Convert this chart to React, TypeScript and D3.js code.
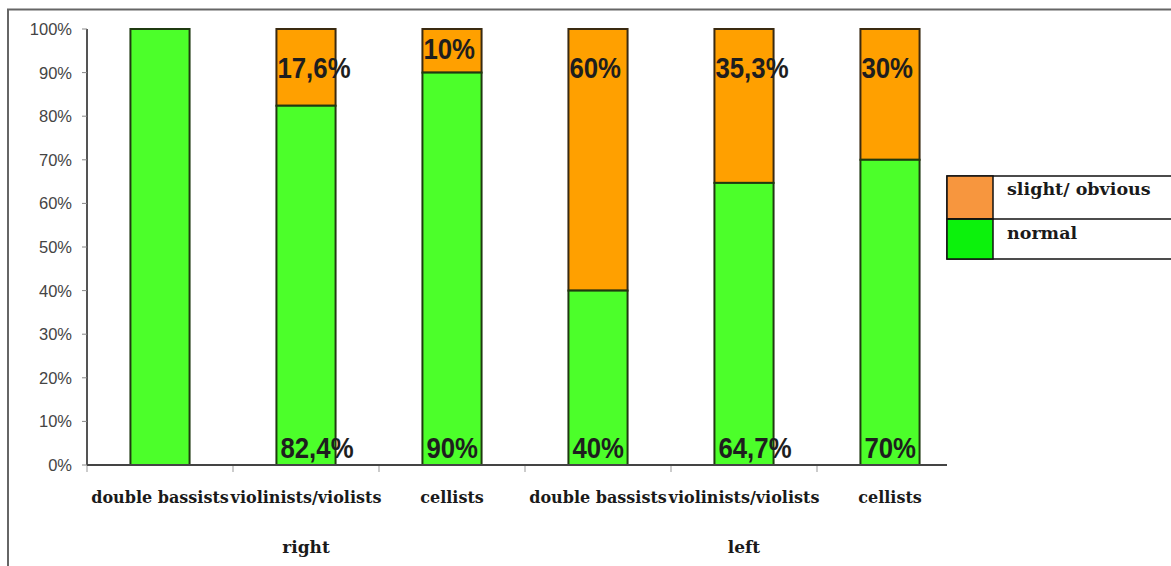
import React from "react";
import * as d3 from "d3";

// Hand position assessment by instrument group, right and left side
const categories = [
  "double bassists",
  "violinists/violists",
  "cellists",
  "double bassists",
  "violinists/violists",
  "cellists",
];
const groups = ["right", "left"];
const normalValues = [100, 82.4, 90, 40, 64.7, 70];
const slightValues = [0, 17.6, 10, 60, 35.3, 30];
const yTicks = [0, 10, 20, 30, 40, 50, 60, 70, 80, 90, 100];
const legendItems = ["slight/ obvious", "normal"];

const W = 1171;
const H = 566;
const GREEN = "#4cff2a";
const ORANGE = "#ffa000";
const LEGEND_GREEN = "#0cf20c";
const LEGEND_ORANGE = "#f7963e";

const fmt = (v: number) => String(v).replace(".", ",") + "%";

export default function App() {
  const x = d3
    .scaleBand<number>()
    .domain(categories.map((_, i) => i))
    .range([87, 87 + 146 * categories.length])
    .paddingInner(0.595)
    .paddingOuter(0.2975);
  const y = d3.scaleLinear().domain([0, 100]).range([465, 29]);
  const step = x.step();
  const bw = x.bandwidth();
  const x0 = x.range()[0];

  const serif = "'DejaVu Serif', 'Liberation Serif', serif";
  const sans = "'Liberation Sans', Arial, sans-serif";

  // condensed bold label, drawn by squeezing a regular bold face horizontally
  const valueLabel = (key: string, tx: number, ty: number, text: string) => (
    <text
      key={key}
      transform={`translate(${tx},${ty}) scale(0.86,1)`}
      fontFamily={sans}
      fontWeight="bold"
      fontSize={30}
      fill="#1e1e1e"
    >
      {text}
    </text>
  );

  return (
    <svg
      width={W}
      height={H}
      style={{ position: "absolute", left: 0, top: 0, background: "#fff" }}
    >
      {/* outer frame */}
      <rect x={8} y={9.5} width={W} height={H} fill="#fff" stroke="#666" strokeWidth={2} />

      {/* y axis */}
      <line x1={x0} x2={x0} y1={y(100)} y2={y(0)} stroke="#555" strokeWidth={2} />
      {yTicks.map((t) => (
        <g key={t}>
          <line x1={x0 - 5} x2={x0} y1={y(t)} y2={y(t)} stroke="#888" strokeWidth={1} />
          <text
            x={72}
            y={y(t)}
            dy="0.36em"
            textAnchor="end"
            fontFamily={sans}
            fontSize={16.5}
            fill="#444"
          >
            {t}%
          </text>
        </g>
      ))}

      {/* x axis ticks */}
      {categories.map((_, i) => (
        <line
          key={i}
          x1={x0 + step * i}
          x2={x0 + step * i}
          y1={y(0)}
          y2={y(0) + 7}
          stroke="#999"
          strokeWidth={1}
        />
      ))}

      {/* stacked bars */}
      {categories.map((_, i) => {
        const bx = x(i) as number;
        const n = normalValues[i];
        const s = slightValues[i];
        return (
          <g key={i}>
            {s > 0 && (
              <rect
                x={bx}
                y={y(n + s)}
                width={bw}
                height={y(n) - y(n + s)}
                fill={ORANGE}
                stroke="#3a2a10"
                strokeWidth={2}
              />
            )}
            <rect
              x={bx}
              y={y(n)}
              width={bw}
              height={y(0) - y(n)}
              fill={GREEN}
              stroke="#1f3a10"
              strokeWidth={2}
            />
          </g>
        );
      })}

      {/* x axis line */}
      <line x1={x0} x2={947} y1={y(0)} y2={y(0)} stroke="#444" strokeWidth={2} />

      {/* value labels */}
      {categories.map((_, i) => {
        const bx = x(i) as number;
        const n = normalValues[i];
        const s = slightValues[i];
        if (n <= 0 || s <= 0) return null;
        const segH = y(n) - y(n + s);
        return (
          <g key={i}>
            {valueLabel("s", bx + 1, y(100) + Math.min(segH - 14, 49), fmt(s))}
            {valueLabel("n", bx + 4, y(0) - 7, fmt(n))}
          </g>
        );
      })}

      {/* category labels */}
      {categories.map((c, i) => (
        <text
          key={i}
          x={(x(i) as number) + bw / 2}
          y={503}
          textAnchor="middle"
          fontFamily={serif}
          fontWeight="bold"
          fontSize={16}
          fill="#1a1a1a"
        >
          {c}
        </text>
      ))}

      {/* side labels under each group's middle bar */}
      {groups.map((g, gi) => (
        <text
          key={g}
          x={(x(gi * 3 + 1) as number) + bw / 2}
          y={553}
          textAnchor="middle"
          fontFamily={serif}
          fontWeight="bold"
          fontSize={17}
          fill="#1a1a1a"
        >
          {g}
        </text>
      ))}

      {/* legend */}
      <g>
        <rect x={947} y={176} width={260} height={83} fill="#fff" stroke="#111" strokeWidth={1.5} />
        <rect x={947} y={176} width={46} height={43} fill={LEGEND_ORANGE} stroke="#111" strokeWidth={1.5} />
        <rect x={947} y={219} width={46} height={40} fill={LEGEND_GREEN} stroke="#111" strokeWidth={1.5} />
        <line x1={947} x2={W} y1={219} y2={219} stroke="#111" strokeWidth={1.5} />
        {legendItems.map((t, i) => (
          <text
            key={t}
            x={1007}
            y={i === 0 ? 195 : 239}
            fontFamily={serif}
            fontWeight="bold"
            fontSize={17.5}
            fill="#1a1a1a"
          >
            {t}
          </text>
        ))}
      </g>
    </svg>
  );
}
